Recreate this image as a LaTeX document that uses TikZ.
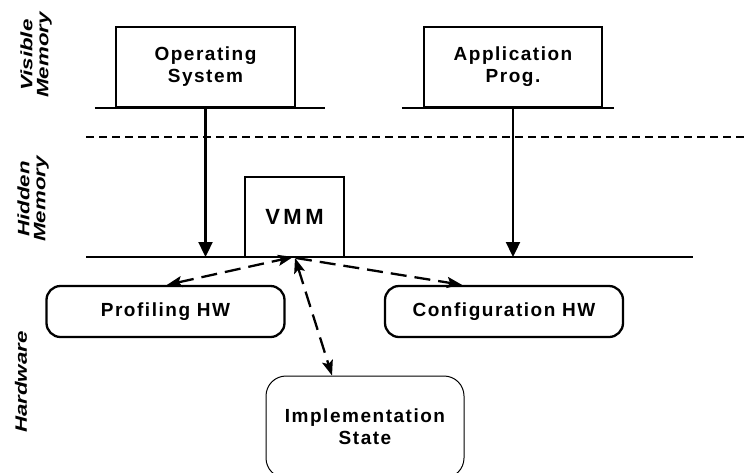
\documentclass[tikz,border=0pt]{standalone}
\usepackage{fontspec}
\setmainfont{Liberation Sans}
\newfontfamily\boxfont{Liberation Sans}[LetterSpace=8]
\newfontfamily\vmmfont{Liberation Sans}[LetterSpace=16]
\usetikzlibrary{arrows.meta,calc}

\begin{document}
\begin{tikzpicture}[x=1pt,y=-1pt,
  thick line/.style={line width=2.3pt},
  boxtext/.style={font=\boxfont\bfseries\fontsize{19}{22}\selectfont, align=center},
  progbox/.style={draw, thick line, boxtext, inner sep=0pt, minimum height=80pt},
  hwbox/.style={draw, thick line, boxtext, rounded corners=14pt, inner sep=0pt,
                minimum width=238pt, minimum height=51pt},
  statebox/.style={draw, line width=1pt, boxtext, rounded corners=20pt, inner sep=0pt,
                minimum width=198pt, minimum height=102pt},
  sidelabel/.style={font=\bfseries\itshape\fontsize{16.5}{16}\selectfont,
                align=center, inner sep=0pt},
  layerframe/.style={rotate=90, xscale=1.35, transform shape},
  callarrow/.style={thick line, -{Triangle[length=15pt,width=14pt]}},
  linkarrow/.style={thick line, dash pattern=on 16pt off 8pt,
                {Stealth[length=15pt,width=11pt,inset=3pt]}-{Stealth[length=15pt,width=11pt,inset=3pt]}},
  linkto/.style={thick line, dash pattern=on 16pt off 8pt,
                -{Stealth[length=15pt,width=11pt,inset=3pt]}},
]
\useasboundingbox (0,0) rectangle (749,472);
\clip (0,0) rectangle (749,472);

% layer labels, read bottom to top and drawn long
\begin{scope}[shift={(36,55)}, layerframe]
  \node[sidelabel] (lvis) at (0,0) {Visible\\Memory};
\end{scope}
\begin{scope}[shift={(33,199)}, layerframe]
  \node[sidelabel] (lhid) at (0,0) {Hidden\\Memory};
\end{scope}
\begin{scope}[shift={(21,382)}, layerframe]
  \node[sidelabel] (lhw) at (0,0) {Hardware};
\end{scope}

% software boxes sitting on their own ledges
\node[progbox, minimum width=179pt] (os)  at (205.5,67) {Operating\\System};
\node[progbox, minimum width=178pt] (app) at (513,67)   {Application\\Prog.};
\draw[thick line] ([xshift=-20pt]os.south west) -- ([xshift=29pt]os.south east);
\draw[thick line] ([xshift=-21pt]app.south west) -- ([xshift=11pt]app.south east);

% boundary between visible and hidden memory
\coordinate (sepL) at (86,137);
\coordinate (sepR) at (749,137);
\draw[thick line, dash pattern=on 8pt off 5pt] (sepL) -- (sepR);

% hardware interface line and VMM
\coordinate (busL) at (86,257);
\coordinate (busR) at (693,257);
\node[draw, thick line, inner sep=0pt, minimum width=99pt, minimum height=80pt,
      font=\vmmfont\bfseries\fontsize{22}{24}\selectfont] (vmm) at (294.5,217) {VMM};
\draw[thick line] (busL) -- (busR);

\draw[callarrow] (os.south)  -- (os.south |- busL);
\draw[callarrow] (app.south) -- (app.south |- busL);

% hardware components
\node[hwbox] (prof) at (165.5,311.5) {Profiling HW};
\node[hwbox] (cfg)  at (504,311.5)   {Configuration HW};
\node[statebox] (impl) at (365,427)  {Implementation\\State};

\coordinate (hub) at (293,257);
\draw[linkarrow] ($(prof.north)+(1.5,0)$) -- (hub);
\draw[linkto] ($(hub)+(3,1)$) -- ($(cfg.north)+(-42,0)$);
\draw[linkarrow] ($(hub)+(2,1)$) -- ($(impl.north)+(-33,0)$);
\end{tikzpicture}
\end{document}
